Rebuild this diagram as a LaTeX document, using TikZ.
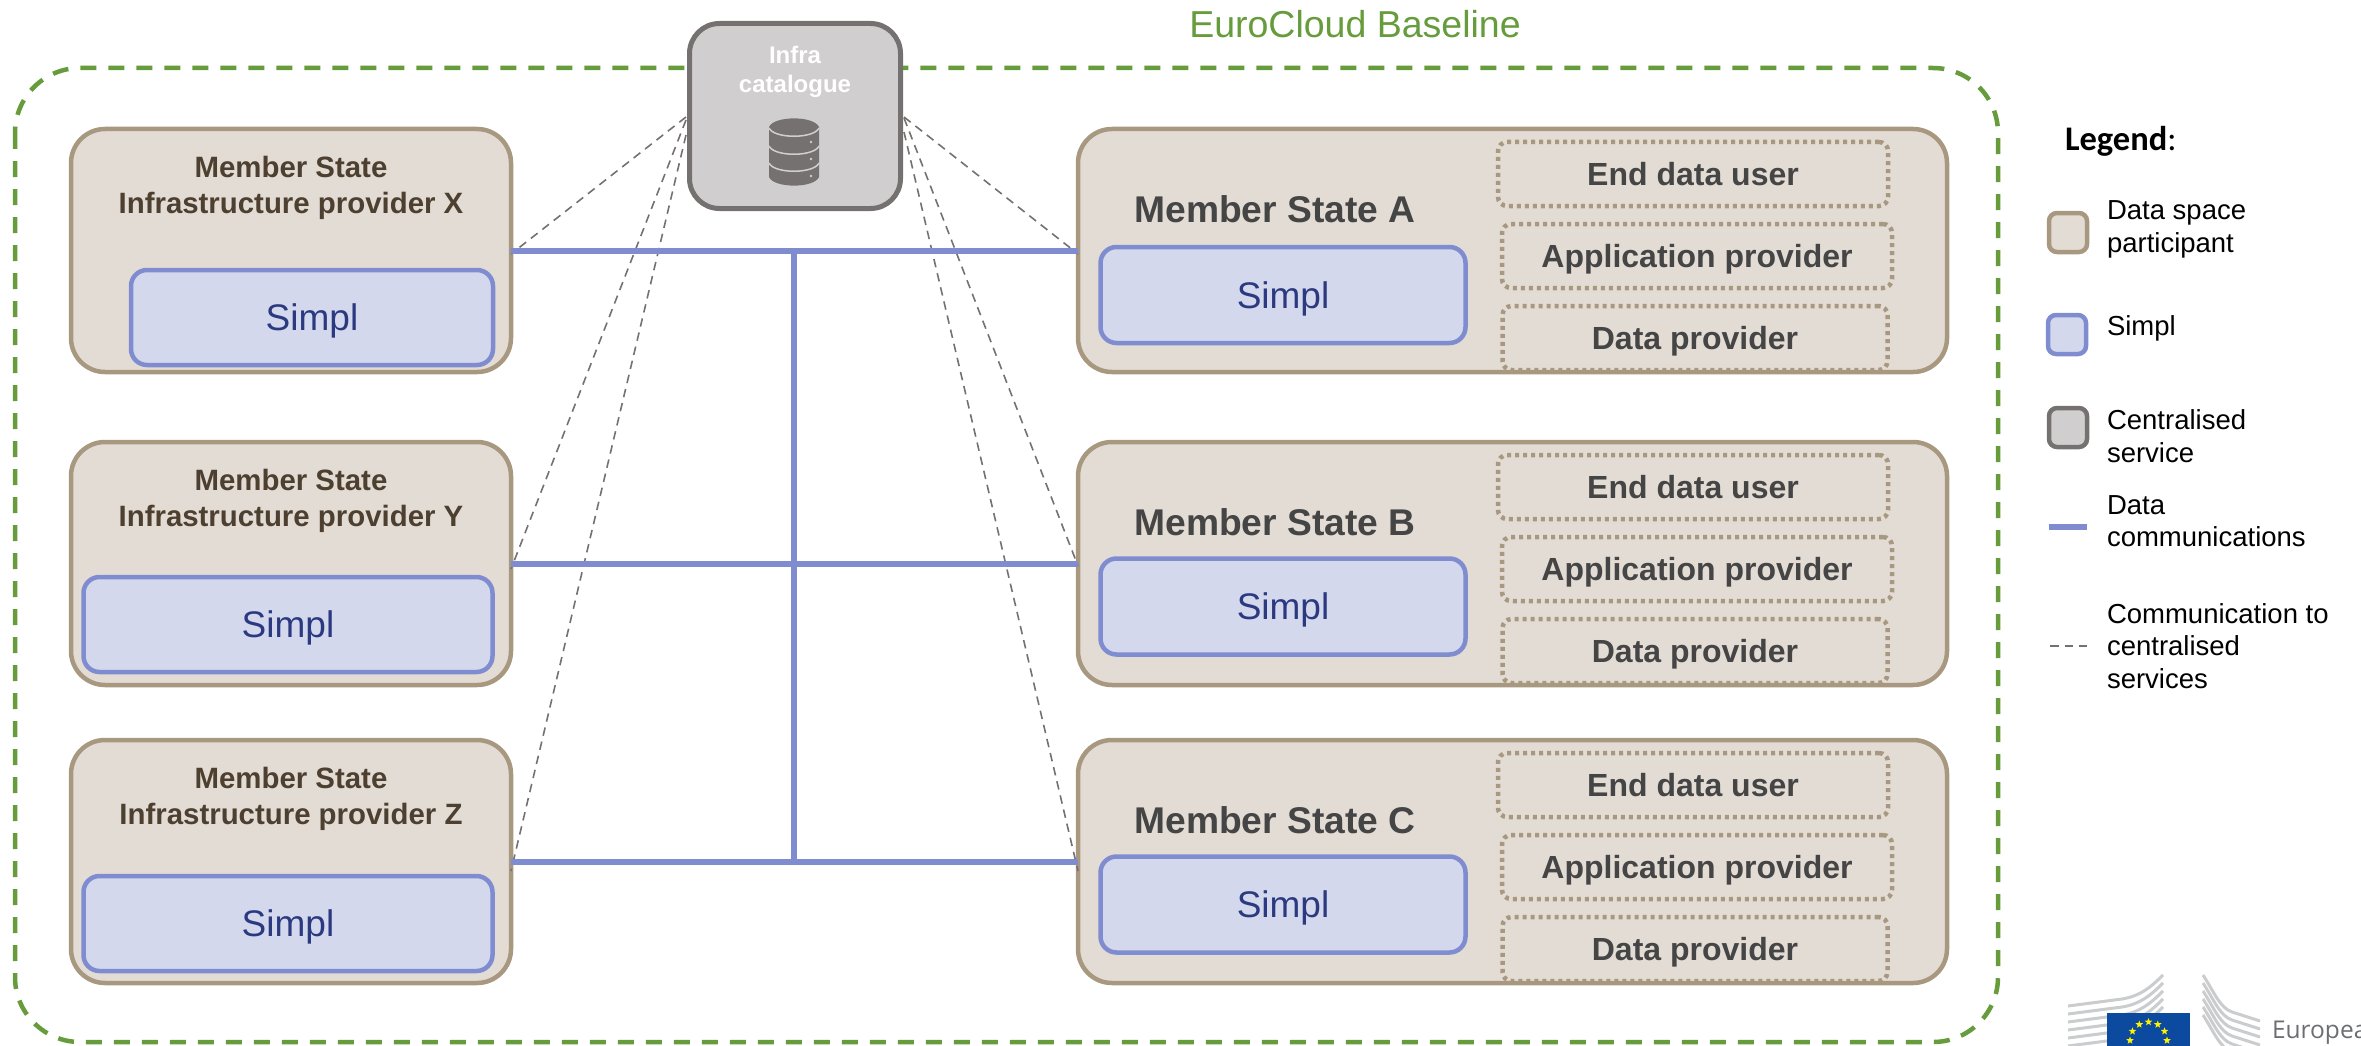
\documentclass[tikz,border=0pt]{standalone}
\usepackage{fontspec}
\setmainfont{Liberation Sans}
\newfontfamily\carlito{Carlito}
\newfontfamily\opensans{Open Sans}
\usetikzlibrary{shapes.geometric}
\definecolor{tanL}{HTML}{A89880}
\definecolor{tanF}{HTML}{E3DCD5}
\definecolor{bluL}{HTML}{7F8DD0}
\definecolor{bluF}{HTML}{D3D8EC}
\definecolor{gryL}{HTML}{767171}
\definecolor{gryF}{HTML}{D0CECE}
\definecolor{grn}{HTML}{669C3B}
\definecolor{simplT}{HTML}{2B3A80}
\definecolor{brownT}{HTML}{4D4030}
\definecolor{darkT}{HTML}{454545}
\definecolor{euBlue}{HTML}{0B4A9E}
\definecolor{wing}{HTML}{CBCCCD}
\definecolor{euGrey}{HTML}{6D6E71}
\newcommand{\fs}[2]{\fontsize{#1}{#2}\selectfont}
\tikzset{
  base/.style={outer sep=0pt,inner sep=0pt,align=center},
  part/.style={base,draw=tanL,fill=tanF,line width=4.5pt,rounded corners=34pt},
  simplbox/.style={base,draw=bluL,fill=bluF,line width=4.5pt,rounded corners=16pt,text=simplT,font=\fs{37}{42},text height=26.5pt,text depth=0pt},
  centr/.style={base,draw=gryL,fill=gryF,line width=5pt,rounded corners=30pt},
  role/.style={base,draw=tanL,line width=4.5pt,dash pattern=on 4pt off 4pt,rounded corners=9pt,text=darkT,font=\bfseries\fs{32}{38},text height=23pt,text depth=0pt},
  title/.style={base,text=brownT,font=\bfseries\fs{29.4}{36}},
  msname/.style={base,text=darkT,font=\bfseries\fs{37.2}{40}},
  datal/.style={draw=bluL,line width=6pt},
  comml/.style={draw=gryL,line width=1.6pt,dash pattern=on 8.5pt off 6pt},
  legt/.style={base,align=left,anchor=west,text=black,font=\fs{27.5}{32.5}},
  swatch/.style={base,line width=4.5pt,rounded corners=8pt,minimum width=38pt,minimum height=39pt},
}
\begin{document}
\begin{tikzpicture}[x=1pt,y=-1pt]
\useasboundingbox (0,0) rectangle (2361,1046);
% outer baseline
\draw[grn,line width=4.5pt,dash pattern=on 16pt off 12pt,rounded corners=65pt] (15,68) rectangle (1998,1042);
\node[base,text=grn,font=\fs{37.5}{42}] (base) at (1355,24) {EuroCloud Baseline};
% left boxes
\foreach \n/\dy/\sx/\sw/\sdy in {X/0/312/362/0,Y/313/288/409/-6,Z/611/288/409/-5}{
  \node[part,minimum width=440pt,minimum height=243pt] (P\n) at (291,{250.5+\dy}) {};
  \node[title] (T\n) at (291,{187.5+\dy}) {Member State\\Infrastructure provider \n};
  \node[simplbox,minimum width=\sw pt,minimum height=95pt] (S\n) at (\sx,{317.5+\dy+\sdy}) {Simpl};
}
% right boxes
\foreach \n/\dy/\sdy in {A/0/0,B/313/-1.5,C/611/-1.5}{
  \node[part,minimum width=869pt,minimum height=243pt] (P\n) at (1512.5,{250.5+\dy}) {};
  \node[msname] (M\n) at (1275,{209+\dy}) {Member State \n};
  \node[simplbox,minimum width=365pt,minimum height=96pt] (S\n) at (1283,{295+\dy+\sdy}) {Simpl};
  \node[role,minimum width=390pt,minimum height=64pt] (E\n) at (1693,{174+\dy}) {End data user};
  \node[role,minimum width=390pt,minimum height=64pt] (D\n) at (1697,{256+\dy}) {Application provider};
  \node[role,minimum width=385pt,minimum height=64pt] (R\n) at (1695,{338+\dy}) {Data provider};
}
% connectors to the centralised service
\coordinate (il1) at (686,117);
\coordinate (il2) at (686,120);
\coordinate (il3) at (686,135);
\coordinate (ir1) at (904,117);
\coordinate (ir2) at (904,118);
\coordinate (ir3) at (904,132);
\draw[comml] (il1) -- ([yshift=-3.5pt]PX.east);
\draw[comml] (il2) -- ([yshift=-5.5pt]PY.east);
\draw[comml] (il3) -- ([yshift=-9.5pt]PZ.east);
\draw[comml] (ir1) -- ([yshift=-3.5pt]PA.west);
\draw[comml] (ir2) -- ([yshift=-2.5pt]PB.west);
\draw[comml] (ir3) -- ([yshift=-9.5pt]PC.west);
% infra node
\node[centr,minimum width=211pt,minimum height=185pt] (I) at (795,116) {};
% data comms
\coordinate (j1) at (794,250.5);
\coordinate (j2) at (794,563.5);
\coordinate (j3) at (794,864.5);
\draw[datal] (PX.east) -- (PA.west);
\draw[datal] (PY.east) -- (PB.west);
\draw[datal] (PZ.east) -- (PC.west);
\draw[datal] (j1) -- (j2) -- (j3);
% infra text + icon
\node[base,text=white,font=\bfseries\fs{24}{29}] (It) at (795,71.5) {Infra\\catalogue};
\fill[gryL] (769,127) -- (769,177) .. controls (774,188.5) and (814,188.5) .. (819,177) -- (819,127)
  .. controls (814,115.5) and (774,115.5) .. (769,127) -- cycle;
\foreach \yy in {128,146,163}{
  \draw[gryF,line width=1.5pt] (769,\yy) .. controls (774,{\yy+11}) and (814,{\yy+11}) .. (819,\yy);
}
\foreach \yy in {142,159,176}{ \fill[gryF] (811,\yy) circle (1.3); }
% legend
\node[base,anchor=west,font=\fs{34.5}{38}] (lg) at (2065,141) {{\carlito\bfseries Legend}{\carlito:}};
\node[swatch,draw=tanL,fill=tanF] (s1) at (2068,232.5) {};
\node[legt] (t1) at (2107,229.5) {Data space\\participant};
\node[swatch,draw=bluL,fill=bluF] (s2) at (2067,334.5) {};
\node[legt] (t2) at (2107,328) {Simpl};
\node[swatch,draw=gryL,fill=gryF] (s3) at (2068,427.5) {};
\node[legt] (t3) at (2107,436) {Centralised\\service};
\coordinate (l1a) at (2049,527);
\coordinate (l1b) at (2087,527);
\draw[datal] (l1a) -- (l1b);
\node[legt] (t4) at (2107,521) {Data\\communications};
\coordinate (l2a) at (2050,646);
\coordinate (l2b) at (2087,646);
\draw[comml] (l2a) -- (l2b);
\node[legt] (t5) at (2107,646) {Communication to\\centralised\\services};
% logo
\begin{scope}
\clip (0,0) rectangle (2361,1046);
\foreach \k in {0,1,2,3,4,5}{
  \draw[wing,line width=3pt] (2068,{1006+8*\k}) -- (2122,{999+8*\k}) .. controls (2140,{996+8*\k}) and (2150,{988+8*\k}) .. (2163,{975+8*\k});
  \draw[wing,line width=3pt] (2203,{975+8*\k}) .. controls (2214,{992+8*\k}) and (2220,{1008+8*\k}) .. (2232,{1012+8*\k}) -- (2260,{1021+8*\k});
}
\fill[euBlue] (2107,1013) rectangle (2190,1060);
\foreach \a in {0,30,...,330}{
  \node[star,star points=5,star point ratio=2.4,fill=yellow,draw=none,inner sep=0pt,minimum size=8pt] (st\a) at ({2148.5+18.5*sin(\a)},{1040.5-18.5*cos(\a)}) {};
}
\node[base,anchor=base west,text=euGrey,font=\opensans\fs{24.5}{30}] (eu) at (2272,1038) {Europea};
\end{scope}
\end{tikzpicture}
\end{document}
